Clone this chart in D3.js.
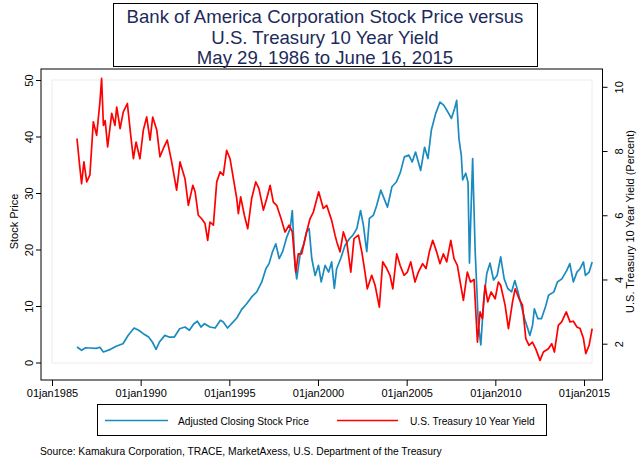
<!DOCTYPE html>
<html><head><meta charset="utf-8">
<script src="https://cdn.jsdelivr.net/npm/d3@7"></script>
<style>
html,body{margin:0;padding:0;background:#fff;}
svg{display:block;font-family:"Liberation Sans",Arial,sans-serif;}
</style></head>
<body>
<svg id="chart" width="640" height="463"></svg>
<script>
// ---------- DATA ----------
const titleLines = ["Bank of America Corporation Stock Price versus","U.S. Treasury 10 Year Yield","May 29, 1986 to June 16, 2015"];
const xTickYears = [1985,1990,1995,2000,2005,2010,2015];
const leftTicks = [0,10,20,30,40,50];
const rightTicks = [2,4,6,8,10];
const seriesNames = ["Adjusted Closing Stock Price","U.S. Treasury 10 Year Yield"];
const sourceText = "Source: Kamakura Corporation, TRACE, MarketAxess, U.S. Department of the Treasury";

const stockYears = [1986.41,1986.67,1986.9,1987.1,1987.5,1987.7,1987.9,1988.3,1988.65,1989.0,1989.3,1989.63,1989.89,1990.15,1990.45,1990.66,1990.87,1991.06,1991.36,1991.6,1991.9,1992.2,1992.5,1992.75,1993.0,1993.2,1993.4,1993.6,1993.9,1994.2,1994.5,1994.66,1994.9,1995.13,1995.42,1995.7,1995.98,1996.26,1996.55,1996.83,1997.06,1997.24,1997.43,1997.62,1997.81,1998.0,1998.24,1998.43,1998.55,1998.7,1998.8,1999.0,1999.2,1999.35,1999.5,1999.65,1999.84,2000.03,2000.18,2000.4,2000.6,2000.77,2000.92,2001.05,2001.28,2001.52,2001.77,2001.96,2002.19,2002.4,2002.56,2002.75,2002.9,2003.13,2003.31,2003.54,2003.73,2003.92,2004.17,2004.42,2004.65,2004.87,2005.12,2005.31,2005.5,2005.79,2006.01,2006.2,2006.39,2006.63,2006.88,2007.1,2007.33,2007.52,2007.71,2007.82,2007.95,2008.08,2008.16,2008.33,2008.46,2008.54,2008.62,2008.72,2008.86,2009.04,2009.18,2009.35,2009.52,2009.7,2009.9,2010.1,2010.3,2010.5,2010.7,2010.92,2011.1,2011.28,2011.46,2011.65,2011.95,2012.1,2012.2,2012.4,2012.6,2012.85,2013.0,2013.3,2013.5,2013.75,2014.03,2014.2,2014.4,2014.6,2014.78,2014.97,2015.08,2015.29,2015.46];
const stockValues = [2.74,2.16,2.6,2.57,2.5,2.7,1.86,2.33,2.92,3.33,4.81,6.1,5.7,5.1,4.5,3.63,2.33,3.63,4.8,4.5,4.5,5.98,6.28,5.7,6.87,7.3,6.28,6.87,6.28,6.1,7.46,7.17,6.1,6.87,7.88,9.41,10.4,11.6,12.5,14.25,16.6,17.5,19.56,21.0,18.4,19.56,22.2,23.7,26.9,17.2,14.8,19.3,21.0,23.1,23.7,18.4,15.4,17.2,14.25,17.2,16.0,17.8,13.1,16.6,18.4,20.7,21.9,22.5,23.7,26.9,24.3,19.6,25.5,26.1,27.8,30.5,29.0,27.5,31.1,31.95,33.7,36.4,36.7,35.5,37.25,34.0,38.1,36.1,41.1,44.0,46.1,45.5,44.3,43.2,45.0,46.4,39.6,36.7,32.3,33.5,31.9,17.6,26.0,36.1,19.9,6.9,3.1,11.3,15.8,17.6,14.6,15.4,18.7,14.8,13.1,12.5,14.5,12.5,10.1,7.75,4.8,6.6,9.5,7.75,7.75,10.1,11.9,12.5,14.25,14.8,16.3,17.5,14.25,16.0,16.6,17.8,15.4,16.0,17.8];

const yieldYears = [1986.41,1986.55,1986.67,1986.8,1986.96,1987.14,1987.33,1987.52,1987.7,1987.8,1987.9,1988.0,1988.14,1988.37,1988.55,1988.65,1988.84,1989.02,1989.25,1989.44,1989.59,1989.74,1989.96,1990.15,1990.34,1990.53,1990.68,1990.91,1991.09,1991.28,1991.5,1991.75,1992.03,1992.22,1992.5,1992.69,1992.94,1993.07,1993.25,1993.44,1993.63,1993.78,1993.91,1994.1,1994.29,1994.48,1994.66,1994.85,1995.04,1995.23,1995.42,1995.51,1995.64,1995.85,1996.04,1996.26,1996.49,1996.67,1996.92,1997.11,1997.3,1997.48,1997.67,1997.92,1998.14,1998.37,1998.55,1998.75,1998.89,1999.08,1999.36,1999.55,1999.74,2000.04,2000.3,2000.49,2000.77,2000.96,2001.06,2001.24,2001.43,2001.62,2001.85,2002.03,2002.28,2002.47,2002.65,2002.78,2003.03,2003.22,2003.46,2003.65,2003.88,2004.06,2004.22,2004.44,2004.63,2004.85,2005.04,2005.23,2005.47,2005.66,2005.9,2006.09,2006.28,2006.47,2006.69,2006.88,2007.07,2007.26,2007.49,2007.67,2007.86,2008.05,2008.2,2008.42,2008.6,2008.8,2008.99,2009.14,2009.27,2009.42,2009.57,2009.76,2009.99,2010.17,2010.3,2010.55,2010.74,2010.97,2011.12,2011.34,2011.53,2011.72,2011.9,2012.09,2012.28,2012.52,2012.71,2012.99,2013.18,2013.33,2013.55,2013.74,2014.0,2014.21,2014.4,2014.6,2014.78,2014.97,2015.1,2015.29,2015.46];
const yieldValues = [8.39,7.6,6.98,7.66,7.04,7.26,8.91,8.49,9.5,10.26,8.8,8.95,8.13,9.17,8.8,9.37,8.7,9.22,9.48,8.49,7.76,8.28,7.76,8.65,9.06,8.34,9.06,8.65,7.82,8.08,8.34,7.66,6.78,7.66,7.14,6.31,6.93,6.73,6.0,5.89,5.74,5.22,5.79,5.69,7.04,7.35,7.25,8.02,7.76,7.14,6.52,6.05,6.57,6.0,5.58,6.52,7.04,6.83,6.16,6.52,6.93,6.41,6.31,5.89,5.48,5.69,5.48,4.23,4.8,4.8,5.48,5.89,6.1,6.73,6.21,6.31,5.84,5.38,5.17,4.86,5.48,5.17,4.23,5.27,5.38,4.86,4.23,3.71,4.13,3.82,3.14,4.55,4.34,4.13,3.71,4.80,4.44,4.13,4.23,4.55,3.92,4.23,4.49,4.34,4.86,5.22,4.86,4.49,4.80,4.55,5.22,4.65,4.44,3.82,3.35,4.23,3.92,4.0,2.05,2.99,2.78,3.82,3.3,3.61,3.40,3.92,3.82,3.2,2.47,3.3,3.71,3.40,3.2,2.16,1.95,2.05,1.84,1.48,1.74,1.84,2.0,1.74,2.57,2.68,2.99,2.68,2.7,2.52,2.47,2.16,1.69,1.95,2.47];

// ---------- helpers ----------
function yearToDate(y){
  const yr = Math.floor(y);
  const start = Date.UTC(yr,0,1), end = Date.UTC(yr+1,0,1);
  return new Date(start + (y-yr)*(end-start));
}
const stockData = stockYears.map((y,i)=>({date:yearToDate(y), value:stockValues[i]}));
const yieldData = yieldYears.map((y,i)=>({date:yearToDate(y), value:yieldValues[i]}));

const svg = d3.select("#chart");
const blue = "#1a8bc0", red = "#ff0000", titleColor = "#1c2b5a";

// layout
const box = {left:41, right:602.5, top:69, bottom:380};
const inner = {left:52, right:592, top:80, bottom:363};

const x = d3.scaleUtc().domain([new Date(Date.UTC(1985,0,1)), new Date(Date.UTC(2015,0,1))]).range([52,584]);
const yL = d3.scaleLinear().domain([0,50]).range([362.5,80]);
const yR = d3.scaleLinear().domain([2,10]).range([343.7,86.8]);

// title box
const tb = svg.append("g");
tb.append("rect").attr("x",113.5).attr("y",3.5).attr("width",424).attr("height",63)
  .attr("fill","#fff").attr("stroke","#000").attr("stroke-width",1);
tb.selectAll("text").data(titleLines).join("text")
  .attr("x",325).attr("y",(d,i)=>23+i*20.5).attr("text-anchor","middle")
  .attr("font-size",18.6).attr("fill",titleColor).text(d=>d);

// plot region
svg.append("rect").attr("x",box.left).attr("y",box.top).attr("width",box.right-box.left).attr("height",box.bottom-box.top)
  .attr("fill","#fff").attr("stroke","#000").attr("stroke-width",1);
svg.append("rect").attr("x",inner.left).attr("y",inner.top).attr("width",inner.right-inner.left).attr("height",inner.bottom-inner.top)
  .attr("fill","none").attr("stroke","#ececec").attr("stroke-width",1);

// lines
const lineL = d3.line().x(d=>x(d.date)).y(d=>yL(d.value));
const lineR = d3.line().x(d=>x(d.date)).y(d=>yR(d.value));
svg.append("path").datum(stockData).attr("d",lineL).attr("fill","none").attr("stroke",blue).attr("stroke-width",1.7).attr("stroke-linejoin","round");
svg.append("path").datum(yieldData).attr("d",lineR).attr("fill","none").attr("stroke",red).attr("stroke-width",1.7).attr("stroke-linejoin","round");

// x axis
const fmt = d => d3.utcFormat("%d%b%Y")(d).toLowerCase();
const xAxis = d3.axisBottom(x).tickValues(xTickYears.map(y=>new Date(Date.UTC(y,0,1)))).tickFormat(fmt).tickSize(6).tickPadding(3);
const gx = svg.append("g").attr("transform",`translate(0,${box.bottom})`).call(xAxis);
gx.select(".domain").remove();
gx.selectAll("text").attr("font-size",11).attr("font-family","Liberation Sans, Arial, sans-serif").attr("fill","#000");

// left axis
const gl = svg.append("g").attr("transform",`translate(${box.left},0)`).call(d3.axisLeft(yL).tickValues(leftTicks).tickSize(5).tickFormat(d3.format("d")));
gl.select(".domain").remove();
gl.selectAll("text").attr("font-size",11).attr("font-family","Liberation Sans, Arial, sans-serif").attr("fill","#000")
  .attr("x",null).attr("dy",null)
  .attr("text-anchor","middle")
  .attr("transform","translate(-8,0) rotate(-90)");
svg.append("text").attr("transform",`translate(18,${(inner.top+inner.bottom)/2}) rotate(-90)`)
  .attr("text-anchor","middle").attr("font-size",11).attr("fill","#000").text("Stock Price");

// right axis
const gr = svg.append("g").attr("transform",`translate(${box.right},0)`).call(d3.axisRight(yR).tickValues(rightTicks).tickSize(5).tickFormat(d3.format("d")));
gr.select(".domain").remove();
gr.selectAll("text").attr("font-size",11).attr("font-family","Liberation Sans, Arial, sans-serif").attr("fill","#000")
  .attr("x",null).attr("dy",null).attr("text-anchor","middle")
  .attr("transform","translate(20,0) rotate(-90)");
svg.append("text").attr("transform",`translate(634,${(inner.top+inner.bottom)/2}) rotate(-90)`)
  .attr("text-anchor","middle").attr("font-size",11).attr("fill","#000").text("U.S. Treasury 10 Year Yield (Percent)");

// legend
const lg = svg.append("g");
lg.append("rect").attr("x",97.5).attr("y",404.5).attr("width",449).attr("height",31).attr("fill","#fff").attr("stroke","#000");
const legendItems = [{name:seriesNames[0],color:blue,x0:105,x1:168,tx:178},{name:seriesNames[1],color:red,x0:337,x1:398,tx:410}];
legendItems.forEach(it=>{
  lg.append("line").attr("x1",it.x0).attr("x2",it.x1).attr("y1",420.5).attr("y2",420.5).attr("stroke",it.color).attr("stroke-width",1.7);
  lg.append("text").attr("x",it.tx).attr("y",424.5).attr("font-size",10.2).attr("fill","#000").text(it.name);
});

// source
svg.append("text").attr("x",40).attr("y",455).attr("font-size",10.3).attr("fill","#000").text(sourceText);
</script>
</body></html>
